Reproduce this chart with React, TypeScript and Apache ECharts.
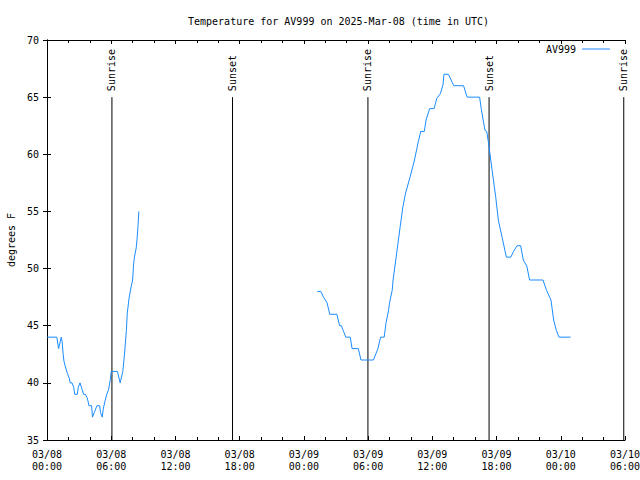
import React, { useEffect, useRef } from "react";
import * as echarts from "echarts";

const seriesName = "AV999";
const titleText = "Temperature for AV999 on 2025-Mar-08 (time in UTC)";
const yAxisName = "degrees F";

// Observation times (UTC, month/day hh:mm) and temperatures (°F), night of 03/08
const times1 = [
  "03/08 00:00", "03/08 00:55", "03/08 01:05", "03/08 01:20", "03/08 01:25", "03/08 01:30",
  "03/08 01:35", "03/08 01:45", "03/08 01:55", "03/08 02:05", "03/08 02:10", "03/08 02:20",
  "03/08 02:30", "03/08 02:35", "03/08 02:50", "03/08 02:55", "03/08 03:05", "03/08 03:15",
  "03/08 03:25", "03/08 03:35", "03/08 03:45", "03/08 03:50", "03/08 03:55", "03/08 04:10",
  "03/08 04:15", "03/08 04:25", "03/08 04:40", "03/08 04:55", "03/08 05:00", "03/08 05:10",
  "03/08 05:15", "03/08 05:25", "03/08 05:35", "03/08 05:45", "03/08 05:55", "03/08 06:00",
  "03/08 06:35", "03/08 06:50", "03/08 07:05", "03/08 07:15", "03/08 07:25", "03/08 07:30",
  "03/08 07:40", "03/08 07:50", "03/08 08:00", "03/08 08:05", "03/08 08:10", "03/08 08:20",
  "03/08 08:25", "03/08 08:30", "03/08 08:35",
];
const temps1 = [
  44, 44, 43, 44, 43.6, 42.6,
  41.9, 41.3, 40.8, 40.4, 40, 40,
  39.6, 39, 39, 39.6, 40, 39.5,
  39, 39, 38.7, 38.4, 38, 38,
  37, 37.4, 38, 38, 37.4, 37,
  37.7, 38.4, 39, 39.4, 40.3, 41,
  41, 40, 41, 42.6, 44.6, 46.1,
  47.4, 48.3, 49, 50.3, 51, 51.8,
  52.6, 53.7, 55,
];

// Second stretch of observations, 03/09 into 03/10
const times2 = [
  "03/09 01:15", "03/09 01:35", "03/09 01:50", "03/09 02:10", "03/09 02:25", "03/09 03:05",
  "03/09 03:20", "03/09 03:30", "03/09 03:40", "03/09 03:55", "03/09 04:20", "03/09 04:30",
  "03/09 05:05", "03/09 05:20", "03/09 06:30", "03/09 06:45", "03/09 06:55", "03/09 07:10",
  "03/09 07:30", "03/09 07:40", "03/09 07:55", "03/09 08:00", "03/09 08:15", "03/09 08:20",
  "03/09 08:35", "03/09 09:00", "03/09 09:15", "03/09 09:30", "03/09 09:55", "03/09 10:20",
  "03/09 10:40", "03/09 10:55", "03/09 11:15", "03/09 11:25", "03/09 11:45", "03/09 12:10",
  "03/09 12:25", "03/09 12:45", "03/09 13:00", "03/09 13:05", "03/09 13:30", "03/09 14:00",
  "03/09 14:55", "03/09 15:15", "03/09 16:25", "03/09 16:35", "03/09 16:55", "03/09 17:05",
  "03/09 17:15", "03/09 17:35", "03/09 17:55", "03/09 18:10", "03/09 18:30", "03/09 18:55",
  "03/09 19:20", "03/09 19:35", "03/09 19:55", "03/09 20:15", "03/09 20:30", "03/09 20:50",
  "03/09 21:05", "03/09 22:20", "03/09 22:40", "03/09 23:05", "03/09 23:20", "03/09 23:35",
  "03/09 23:50", "03/10 00:55",
];
const temps2 = [
  48, 48, 47.5, 47, 46, 46,
  45, 45, 44.6, 44, 44, 43,
  43, 42, 42, 42.6, 43, 44,
  44, 45.2, 46.4, 47, 48.1, 49,
  50.75, 53.7, 55.4, 56.6, 58, 59.5,
  61, 62, 62, 63, 64, 64,
  64.9, 65.3, 66.1, 67, 67, 66,
  66, 65, 65, 63.9, 62.1, 62,
  61, 58.6, 56.3, 54.25, 52.8, 51,
  51, 51.5, 52, 52, 50.75, 50.2,
  49, 49, 48.1, 47.25, 45.5, 44.6,
  44, 44,
];

// Sunrise / sunset markers
const sunTimes = ["03/08 06:04", "03/08 17:20", "03/09 05:59", "03/09 17:18", "03/10 05:53"];
const sunLabels = ["Sunrise", "Sunset", "Sunrise", "Sunset", "Sunrise"];
const sunTop = 65;

// Axis settings
const xMaxHours = 54;
const xStepHours = 6;
const yMin = 35;
const yMax = 70;
const yStep = 5;

const FONT = "DejaVu Sans Mono";

const toHours = (s: string) => {
  const [md, hm] = s.split(" ");
  const day = parseInt(md.split("/")[1], 10);
  const [H, M] = hm.split(":").map(Number);
  return (day - 8) * 24 + H + M / 60;
};
const pad = (n: number) => (n < 10 ? "0" + n : "" + n);

export default function App() {
  const ref = useRef<HTMLDivElement>(null);

  useEffect(() => {
    if (!ref.current) return;
    const chart = echarts.init(ref.current, undefined, { renderer: "svg" });

    const lineData: any[] = [];
    times1.forEach((t, i) => lineData.push([toHours(t), temps1[i]]));
    lineData.push([toHours(times1[times1.length - 1]) + 0.1, "-"]);
    times2.forEach((t, i) => lineData.push([toHours(t), temps2[i]]));

    const sunData = sunTimes.map((t) => [toHours(t), sunTop]);

    const xFmt = (v: number) => {
      const day = 8 + Math.floor(v / 24);
      const hr = Math.round(v % 24);
      return `03/${pad(day)}\n${pad(hr)}:00`;
    };

    const baseX = {
      type: "value",
      min: 0,
      max: xMaxHours,
      interval: xStepHours,
      splitLine: { show: false },
      axisLine: { show: true, lineStyle: { color: "#000", width: 1 } },
      axisTick: { show: true, inside: true, length: 4, lineStyle: { color: "#000" } },
      minorTick: { show: true, splitNumber: 3, length: 3, lineStyle: { color: "#000" } },
    };
    const baseY = {
      type: "value",
      min: yMin,
      max: yMax,
      interval: yStep,
      splitLine: { show: false },
      axisLine: { show: true, lineStyle: { color: "#000", width: 1 } },
      axisTick: { show: true, inside: true, length: 4, lineStyle: { color: "#000" } },
    };

    chart.setOption({
      animation: false,
      backgroundColor: "#fff",
      textStyle: { fontFamily: FONT },
      title: {
        text: titleText,
        left: 183,
        top: 11,
        textStyle: { fontFamily: FONT, fontSize: 10, fontWeight: "normal", color: "#000" },
      },
      legend: {
        data: [seriesName],
        right: 25,
        top: 39,
        align: "right",
        icon: "rect",
        itemWidth: 28,
        itemHeight: 1,
        textStyle: { fontFamily: FONT, fontSize: 10, color: "#000", padding: [0, 1, 0, 0] },
      },
      grid: {
        left: 47,
        right: 15,
        top: 40,
        bottom: 40,
        containLabel: false,
        outerBoundsMode: "none",
      },
      xAxis: [
        {
          ...baseX,
          position: "bottom",
          axisLabel: {
            formatter: xFmt,
            fontFamily: FONT,
            fontSize: 10,
            lineHeight: 12,
            color: "#000",
            margin: 8,
          },
        },
        { ...baseX, position: "top", axisLabel: { show: false } },
      ],
      yAxis: [
        {
          ...baseY,
          position: "left",
          name: yAxisName,
          nameLocation: "middle",
          nameGap: 31,
          nameTextStyle: { fontFamily: FONT, fontSize: 10, color: "#000" },
          axisLabel: { fontFamily: FONT, fontSize: 10, color: "#000", margin: 8 },
        },
        { ...baseY, position: "right", axisLabel: { show: false } },
      ],
      series: [
        {
          name: seriesName,
          type: "line",
          data: lineData,
          showSymbol: false,
          connectNulls: false,
          lineStyle: { color: "#1a8cff", width: 1 },
          itemStyle: { color: "#1a8cff" },
          z: 3,
        },
        {
          name: "sun",
          type: "custom",
          data: sunData,
          encode: { x: 0, y: 1 },
          clip: false,
          z: 2,
          renderItem: (params: any, api: any) => {
            const h = api.value(0);
            const top = api.coord([h, api.value(1)]);
            const bottom = api.coord([h, yMin]);
            return {
              type: "group",
              children: [
                {
                  type: "line",
                  shape: { x1: top[0], y1: top[1], x2: bottom[0], y2: bottom[1] },
                  style: { stroke: "#000", lineWidth: 1 },
                },
                {
                  type: "text",
                  x: top[0],
                  y: top[1] - 6,
                  rotation: Math.PI / 2,
                  style: {
                    text: sunLabels[params.dataIndex],
                    fontFamily: FONT,
                    fontSize: 10,
                    fill: "#000",
                    align: "left",
                    verticalAlign: "middle",
                  },
                },
              ],
            };
          },
        },
      ],
    });

    return () => chart.dispose();
  }, []);

  return (
    <div
      ref={ref}
      style={{ position: "fixed", left: 0, top: 0, width: 640, height: 480, background: "#fff" }}
    />
  );
}
